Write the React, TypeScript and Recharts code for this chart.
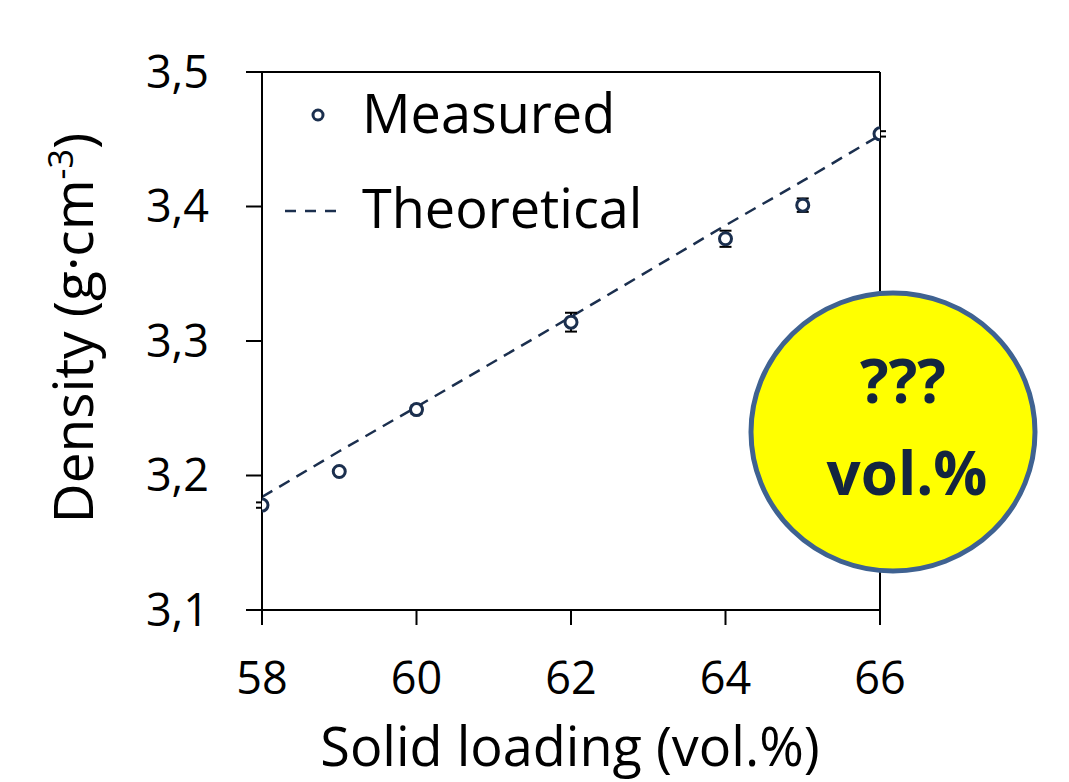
import { ComposedChart, Line, XAxis, YAxis, ErrorBar, ReferenceLine } from 'recharts'

const loadings = [58, 59, 60, 62, 64, 65, 66]
const measuredDensity = [3.178, 3.203, 3.249, 3.314, 3.376, 3.401, 3.454]
const densityError = [0.002, 0.002, 0.003, 0.007, 0.006, 0.005, 0.002]
const theoreticalDensity = [3.184, 3.218, 3.251, 3.318, 3.386, 3.419, 3.453]
const xTicks = [58, 60, 62, 64, 66]
const yTicks = [3.1, 3.2, 3.3, 3.4, 3.5]
const seriesNames = ['Measured', 'Theoretical']

const measured = loadings.map((load, i) => ({ load, density: measuredDensity[i], err: densityError[i] }))
const theory = loadings.map((load, i) => ({ load, density: theoreticalDensity[i] }))

const navy = '#1b2f4e'
const font = '"Open Sans", sans-serif'

function YTitle() {
  return (
    <text x={93} y={328} transform="rotate(-90, 93, 328)" textAnchor="middle" fontSize={55} fontFamily={font} fill="#000">
      <tspan>Density (g·cm</tspan>
      <tspan dy={-20} fontSize={34}>-3</tspan>
      <tspan dy={20}>)</tspan>
    </text>
  )
}

function XTitle() {
  return (
    <text x={570} y={766} textAnchor="middle" fontSize={54} fontFamily={font} fill="#000">
      Solid loading (vol.%)
    </text>
  )
}

export default function App() {
  return (
    <div style={{ position: 'absolute', left: 0, top: 0, width: 1069, height: 782, background: '#fff' }}>
      <ComposedChart width={1069} height={782} margin={{ top: 72, right: 189, bottom: 0, left: 0 }}>
        <XAxis
          type="number"
          dataKey="load"
          domain={[58, 66]}
          ticks={xTicks}
          allowDataOverflow
          height={172}
          stroke="#000"
          strokeWidth={2}
          tickSize={15}
          tickMargin={37}
          tick={{ fontSize: 45, fontFamily: font, fill: '#000' }}
          label={<XTitle />}
        />
        <YAxis
          type="number"
          domain={[3.1, 3.5]}
          ticks={yTicks}
          width={262}
          stroke="#000"
          strokeWidth={2}
          tickSize={16}
          tickMargin={37}
          tickFormatter={(v: number) => v.toFixed(1).replace('.', ',')}
          tick={{ fontSize: 45, fontFamily: font, fill: '#000' }}
          label={<YTitle />}
        />
        <ReferenceLine y={3.5} stroke="#000" strokeWidth={2} />
        <ReferenceLine x={66} stroke="#000" strokeWidth={2} />
        <Line
          data={theory}
          dataKey="density"
          stroke={navy}
          strokeWidth={2.5}
          strokeDasharray="12 8"
          dot={false}
          activeDot={false}
          isAnimationActive={false}
        />
        <Line
          data={measured}
          dataKey="density"
          stroke="none"
          dot={{ r: 6, stroke: navy, strokeWidth: 3, fill: '#fff' }}
          activeDot={false}
          isAnimationActive={false}
        >
          <ErrorBar dataKey="err" direction="y" width={6} stroke="#000" strokeWidth={2} />
        </Line>
      </ComposedChart>
      <svg width={1069} height={782} style={{ position: 'absolute', left: 0, top: 0, pointerEvents: 'none' }}>
        <circle cx={318} cy={115} r={5} fill="#fff" stroke={navy} strokeWidth={3} />
        <text x={362} y={133} fontSize={54} fontFamily={font} fill="#000">{seriesNames[0]}</text>
        <line x1={285} x2={345} y1={211} y2={211} stroke={navy} strokeWidth={2.5} strokeDasharray="11 9" />
        <text x={362} y={228} fontSize={54} fontFamily={font} fill="#000">{seriesNames[1]}</text>
        <ellipse cx={893} cy={432} rx={142} ry={139} fill="#ffff00" stroke="#3f6291" strokeWidth={5} />
        <text x={903} y={403} textAnchor="middle" fontSize={60} fontWeight="bold" fontFamily={font} fill="#14253f">???</text>
        <text x={907} y={495} textAnchor="middle" fontSize={60} fontWeight="bold" fontFamily={font} fill="#14253f">vol.%</text>
      </svg>
    </div>
  )
}
